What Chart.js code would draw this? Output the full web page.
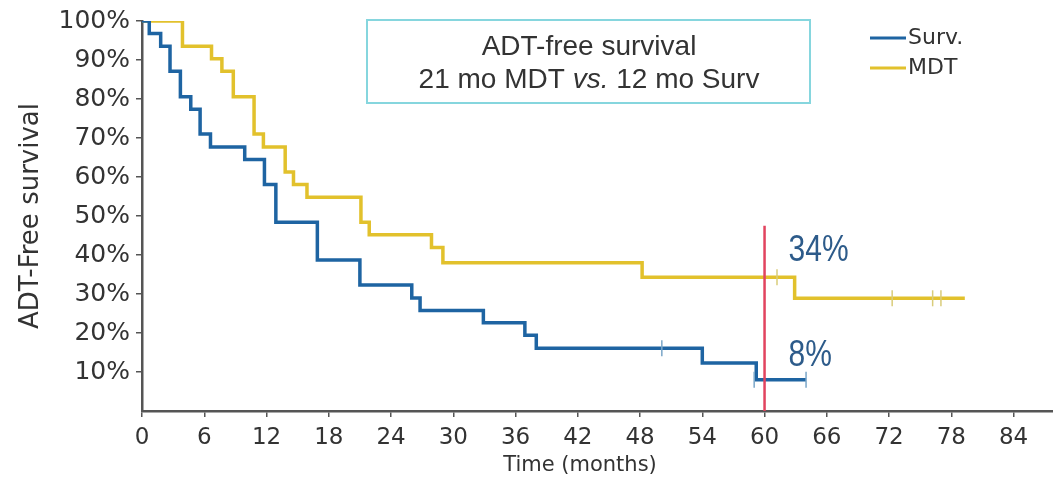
<!DOCTYPE html>
<html>
<head>
<meta charset="utf-8">
<script src="https://cdn.jsdelivr.net/npm/chart.js@4.4.1/dist/chart.umd.min.js"></script>
<style>
  html, body { margin: 0; padding: 0; background: #ffffff; }
  #wrap { width: 1053px; height: 486px; position: relative; }
</style>
</head>
<body>
<div id="wrap"><canvas id="c" width="1053" height="486"></canvas></div>
<script>
// ---- data ----
const seriesNames = ['Surv.', 'MDT'];

const survTime = [0, 0.7, 1.8, 2.7, 3.7, 4.7, 5.6, 6.6, 9.9, 11.8, 12.9, 16.9, 21.0, 26.0, 26.8, 32.9, 36.9, 38.0, 54.0, 59.2, 64.0];
const survVal  = [100, 96.8, 93.5, 87.1, 80.6, 77.4, 71.0, 67.7, 64.5, 58.1, 48.4, 38.7, 32.3, 29.0, 25.8, 22.6, 19.4, 16.1, 12.3, 8.0, 8.0];
const survCensorTime = [50.1, 59.0, 64.0];
const survCensorVal  = [16.1, 8.0, 8.0];

const mdtTime = [0, 3.9, 6.7, 7.7, 8.8, 10.8, 11.7, 13.8, 14.6, 15.9, 21.1, 21.9, 27.9, 29.0, 48.2, 62.9, 79.3];
const mdtVal  = [100, 93.5, 90.3, 87.1, 80.6, 71.0, 67.7, 61.3, 58.1, 54.8, 48.4, 45.2, 41.9, 38.0, 34.3, 28.9, 28.9];
const mdtCensorTime = [61.2, 72.3, 76.2, 77.0];
const mdtCensorVal  = [34.3, 28.9, 28.9, 28.9];

const landmarkMonth = 60;
const landmarkTop = 47.5;
const landmarkLabels = ['34%', '8%'];
const landmarkLabelVal = [40.9, 14];

const xTickValues = [0, 6, 12, 18, 24, 30, 36, 42, 48, 54, 60, 66, 72, 78, 84];
const yTickValues = [10, 20, 30, 40, 50, 60, 70, 80, 90, 100];

const titleLines = ['ADT-free survival', ['21 mo MDT ', 'vs.', ' 12 mo Surv']];
const yTitle = 'ADT-Free survival';
const xTitle = 'Time (months)';

// ---- styles ----
const BLUE = '#1e64a2';
const YELLOW = '#e2c12c';
const RED = '#e2445f';
const TXT = '#333333';
const FONT = "'DejaVu Sans', sans-serif";
const AFONT = "'Liberation Sans', Arial, sans-serif";

const pts = (xs, ys) => xs.map((x, i) => ({ x: x, y: ys[i] }));

const overlay = {
  id: 'overlay',
  afterDraw(chart) {
    const ctx = chart.ctx;
    const xs = chart.scales.x, ys = chart.scales.y;
    ctx.save();
    // title box
    ctx.strokeStyle = '#86d6de';
    ctx.lineWidth = 2;
    ctx.strokeRect(367, 20, 443, 83);
    ctx.fillStyle = TXT;
    ctx.textBaseline = 'middle';
    ctx.textAlign = 'center';
    ctx.font = "28px " + AFONT;
    ctx.fillText(titleLines[0], 589, 47);
    const parts = titleLines[1];
    const fonts = ["28px " + AFONT, "italic 28px " + AFONT, "28px " + AFONT];
    const widths = parts.map((p, i) => { ctx.font = fonts[i]; return ctx.measureText(p).width; });
    const total = widths.reduce((a, b) => a + b, 0);
    let x0 = 589 - total / 2;
    ctx.textAlign = 'left';
    parts.forEach((p, i) => { ctx.font = fonts[i]; ctx.fillText(p, x0, 80); x0 += widths[i]; });

    // legend
    const legColors = [BLUE, YELLOW];
    const legY = [38, 68];
    seriesNames.forEach((n, i) => {
      ctx.strokeStyle = legColors[i];
      ctx.lineWidth = 3;
      ctx.beginPath();
      ctx.moveTo(870, legY[i]);
      ctx.lineTo(906, legY[i]);
      ctx.stroke();
      ctx.fillStyle = TXT;
      ctx.font = "22px " + FONT;
      ctx.textAlign = 'left';
      ctx.fillText(n, 908, legY[i]);
    });

    // landmark labels
    ctx.fillStyle = '#2d5b8a';
    ctx.font = "30px " + AFONT;
    ctx.textAlign = 'left';
    landmarkLabels.forEach((t, i) => {
      const px = xs.getPixelForValue(landmarkMonth) + 24;
      const py = ys.getPixelForValue(landmarkLabelVal[i]);
      ctx.save();
      ctx.translate(px, py);
      ctx.scale(1, 1.2);
      ctx.fillText(t, 0, 0);
      ctx.restore();
    });

    // x title
    ctx.fillStyle = TXT;
    ctx.font = "21px " + FONT;
    ctx.textAlign = 'center';
    ctx.fillText(xTitle, 580, 466);
    ctx.restore();
  }
};

new Chart(document.getElementById('c'), {
  type: 'line',
  data: {
    datasets: [
      { label: 'landmark', data: [{ x: landmarkMonth, y: landmarkTop }, { x: landmarkMonth, y: 0 }],
        borderColor: RED, borderWidth: 2.5, pointRadius: 0, order: 0 },
      { label: seriesNames[0] + ' censored', data: pts(survCensorTime, survCensorVal), showLine: false,
        pointStyle: 'line', rotation: 90, pointRadius: 8, borderColor: '#7aa6c8', borderWidth: 1.5,
        pointBorderColor: '#7aa6c8', pointBackgroundColor: '#7aa6c8', order: 1 },
      { label: seriesNames[1] + ' censored', data: pts(mdtCensorTime, mdtCensorVal), showLine: false,
        pointStyle: 'line', rotation: 90, pointRadius: 8, borderColor: '#d9cc7a', borderWidth: 1.5,
        pointBorderColor: '#d9cc7a', pointBackgroundColor: '#d9cc7a', order: 1 },
      { label: seriesNames[0], data: pts(survTime, survVal), stepped: true,
        borderColor: BLUE, borderWidth: 3.5, pointRadius: 0, fill: false, order: 2 },
      { label: seriesNames[1], data: pts(mdtTime, mdtVal), stepped: true,
        borderColor: YELLOW, borderWidth: 3.5, pointRadius: 0, fill: false, order: 3 }
    ]
  },
  options: {
    responsive: false,
    animation: false,
    layout: { autoPadding: false, padding: { top: 20, right: 0, bottom: 0, left: 0 } },
    plugins: { legend: { display: false }, tooltip: { enabled: false } },
    scales: {
      x: {
        type: 'linear', min: 0, max: 87.8,
        afterBuildTicks: s => { s.ticks = xTickValues.map(v => ({ value: v })); },
        afterFit: s => { s.height = 75; },
        grid: { display: true, drawOnChartArea: false, drawTicks: true, tickLength: 6, color: '#555', lineWidth: 1.5 },
        border: { display: true, color: '#555', width: 2.5 },
        ticks: { color: TXT, font: { family: FONT, size: 23 }, padding: 7, maxRotation: 0 }
      },
      y: {
        type: 'linear', min: 0, max: 100,
        afterBuildTicks: s => { s.ticks = yTickValues.map(v => ({ value: v })); },
        afterFit: s => { s.width = 142; },
        grid: { display: true, drawOnChartArea: false, drawTicks: true, tickLength: 6, color: '#555', lineWidth: 1.5 },
        border: { display: true, color: '#555', width: 2.5 },
        ticks: { color: TXT, font: { family: FONT, size: 25 }, padding: 6, callback: v => v + '%' },
        title: { display: true, text: yTitle, color: TXT, font: { family: FONT, size: 26 }, padding: { top: 16, bottom: 0 } }
      }
    }
  },
  plugins: [overlay]
});
</script>
</body>
</html>
